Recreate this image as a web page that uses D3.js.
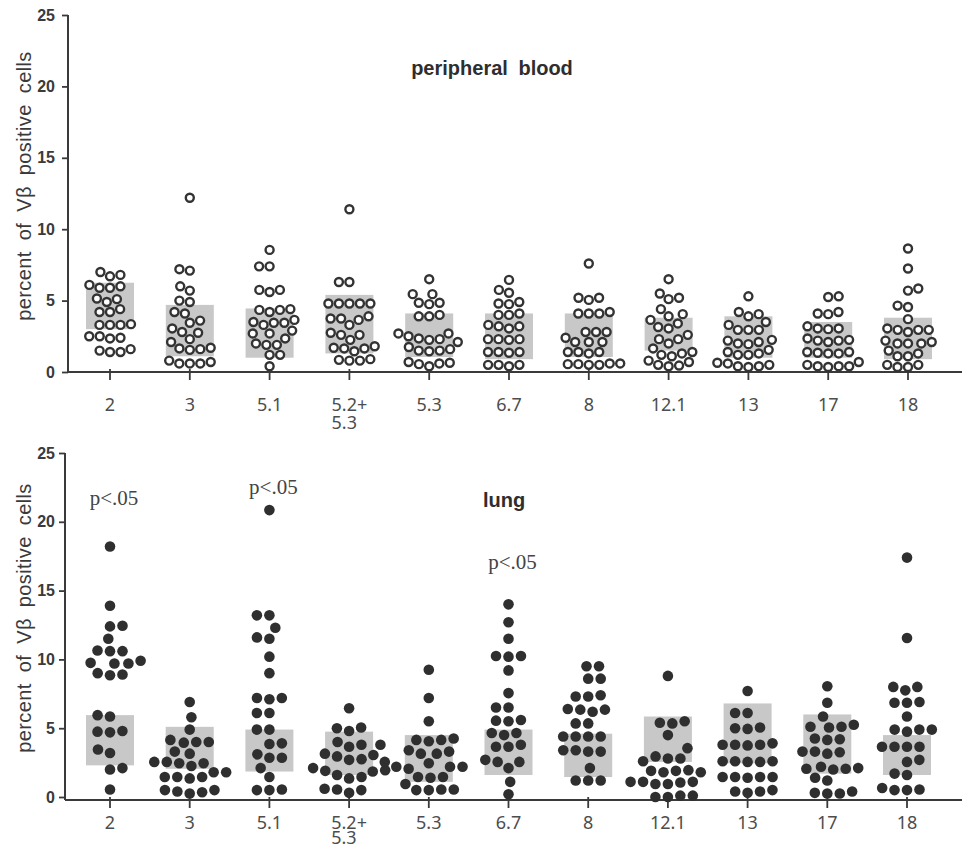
<!DOCTYPE html>
<html lang="en">
<head>
<meta charset="UTF-8" />
<title>Percent of Vβ positive cells: peripheral blood and lung</title>
<script src="https://d3js.org/d3.v7.min.js"></script>
<style>
  body { margin: 0; background: #fff; }
  .cat-label { font-family: "Noto Sans", sans-serif; font-size: 18px; fill: #4d4d4d; }
  .ytick text { font-family: "Liberation Sans", Arial, sans-serif; font-size: 16px; font-weight: bold; fill: #3a3a3a; }
  .ylabel { font-family: "Liberation Sans", Arial, sans-serif; font-size: 20px; fill: #3a3a3a;
            letter-spacing: 0.4px; word-spacing: 5px; }
  .panel-title { font-family: "Liberation Sans", Arial, sans-serif; font-size: 20px; font-weight: bold;
                 fill: #2e2e2e; word-spacing: 5px; }
  .sig { font-family: "Liberation Serif", "Times New Roman", serif; font-size: 21px; fill: #444; }
</style>
</head>
<body>
<svg width="968" height="849"></svg>
<script>
// V beta families on the x axis
const categories = ["2", "3", "5.1", "5.2+|5.3", "5.3", "6.7", "8", "12.1", "13", "17", "18"];
const yTicks = [0, 5, 10, 15, 20, 25];

// peripheral blood, one array of patient values per category
const bloodValues = [
  [6.7,6.8,7.0, 5.9,6.1,6.0,5.9, 4.9,5.1,5.15, 4.4,4.2,4.2, 3.3,3.3,3.35,3.3, 2.4,2.5,2.35,2.5, 1.4,1.6,1.4,1.5],
  [12.2, 7.1,7.2, 5.7,6.0, 4.9,5.0, 4.1,4.2, 3.05,3.45,3.6, 2.3,2.75,2.8,2.1, 1.65,1.6,1.55,1.7, 0.8,0.6,0.6,0.7,0.6],
  [8.55, 7.4,7.4, 5.75,5.75,5.6, 4.35,4.4,4.35,4.2, 3.45,3.45,3.65,3.5,3.3, 2.9,2.7,2.7, 2.35,2.0,1.9, 1.9,1.2,1.2, 0.4],
  [11.4, 6.3,6.3, 4.8,4.8,4.8,4.8,4.8, 3.9,3.75,3.75,3.65, 3.3, 2.6,2.75,2.6, 2.25, 1.65,1.7,1.8,1.65,1.45, 0.85,0.8,0.9,0.8],
  [6.5, 5.45,5.45, 4.85,4.75,4.85, 4.0,3.9,3.9, 2.7,2.7, 2.3,2.1,2.25,2.35,2.5, 1.45,1.5,1.75,1.6,1.5, 0.4,0.55,0.6,0.7,0.65],
  [6.45, 5.55,5.75, 4.75,4.9,4.8, 4.0,4.1,4.0, 3.05,3.2,3.2,3.3, 2.25,2.3,2.3,2.3, 1.4,1.4,1.35,1.4, 0.5,0.4,0.5,0.5],
  [7.6, 5.2,5.2,5.05, 4.1,4.1,4.1,4.2, 2.8,2.8,2.8, 2.1,2.1,2.1,2.4, 1.4,1.3,1.4,1.4, 0.6,0.5,0.5,0.6,0.55,0.55],
  [6.5, 5.1,5.5,5.2, 4.4,3.9,4.05, 3.4,3.05,3.65,3.15, 2.6, 2.3,2.3,2.0, 1.65,1.4,1.3, 1.2,1.1,0.8, 0.45,0.4,0.7,0.5],
  [5.3, 4.05,4.2,3.9, 2.95,2.95,3.5,2.95,3.3, 2.2,2.0,1.95,2.25,2.1, 1.3,1.55,1.2,1.4,1.2, 0.4,0.4,0.6,0.65,0.5,0.35],
  [5.25,5.3, 4.1,4.2,4.05, 3.05,3.05,3.0,3.2, 2.25,2.2,2.1,2.35,2.2, 1.4,1.4,1.3,1.3,1.35, 0.4,0.7,0.35,0.4,0.4,0.5],
  [8.65, 7.25, 5.7,5.85, 4.65,4.55, 3.7, 2.8,2.95,3.05,2.95,2.95, 2.0,2.2,2.1,2.0,2.0, 1.3,1.5,1.1,1.1, 0.5,0.5,0.35,0.35]
];
const bloodQ1 = [3.0, 1.1, 1.0, 1.3, 1.05, 0.9, 1.05, 1.5, 1.0, 1.0, 0.9];
const bloodQ3 = [6.25, 4.7, 4.45, 5.4, 4.1, 4.1, 4.1, 3.8, 3.9, 3.5, 3.8];

// lung
const lungValues = [
  [18.2, 13.9, 12.4,12.45, 11.5, 10.6,10.65,10.6, 9.7,9.7,9.75,9.9, 8.85,8.9,9.0, 5.85,5.95, 4.7,4.75,4.8, 3.45,3.2, 2.0,2.1, 0.55],
  [6.9, 5.8, 4.9, 4.0,3.95,4.15,4.0, 3.15,3.3, 2.45,2.45,2.55,2.55, 2.25, 1.45,1.45,1.45,1.35,1.8,1.8, 0.25,0.35,0.5,0.4,0.5],
  [20.85, 13.2,13.2, 12.3, 11.6,11.5, 10.2, 9.0, 7.2,7.2,7.1, 6.1,6.1, 4.9,4.9, 3.9,3.85, 2.85,2.85,3.1, 2.1,1.45, 0.5,0.55,0.5],
  [6.45, 4.8,5.0,5.05, 3.8,3.8,4.0,3.65, 3.05,2.95,3.15, 2.75,2.7, 1.95,1.85,2.1,1.9, 1.45,1.35,1.6, 0.55,0.3,0.6,0.5],
  [9.25, 7.2, 5.5, 4.25,4.15,4.15,4.05, 3.3,3.4,3.15,3.15, 2.05,2.2,2.2,2.2,2.45,2.55, 1.4,1.45,1.45, 0.95,0.55,0.5,0.55,0.5],
  [14.0, 12.7, 11.5, 10.2,10.25,10.25, 9.2, 7.55, 6.5,6.5, 5.55,5.6,5.5, 4.5,4.65,4.65, 3.65,3.8,3.65, 2.55,2.7,2.55, 2.1, 1.1, 0.2],
  [9.5,9.5, 8.6,8.6, 7.3,7.4,7.3, 6.35,6.35,6.2,6.4, 5.35,5.35, 4.4,4.4,4.4,4.4, 3.4,3.3,3.3,3.4, 2.1, 1.2,1.2,1.2],
  [8.8, 5.4,5.5,5.35, 4.5, 3.55,2.95,2.8, 2.6,2.8, 1.8,1.9,1.95,1.9,1.8, 0.95,1.1,1.05,1.1,1.1,0.95, 0.1,0.0,0.1,0.0],
  [7.7, 6.1,6.1, 5.05,5.0,4.95, 3.8,3.75,3.9,3.8,3.8, 2.6,2.6,2.55,2.6,2.55, 1.45,1.45,1.4,1.45,1.45, 0.5,0.4,0.4,0.3],
  [8.05, 6.85, 5.85, 5.1,5.25,5.05,5.1, 4.15,4.25,4.2, 3.3,3.25,3.15,3.3, 2.2,2.05,2.0,2.1,2.05, 1.2,1.4, 0.25,0.4,0.25,0.3],
  [17.4, 11.55, 7.75,8.0,8.0, 6.85,6.85,6.9, 5.85, 4.9,4.9,4.9,4.75, 3.65,3.65,3.65,3.65, 2.7,2.55, 1.6,1.7, 0.55,0.65,0.5,0.5]
];
const lungQ1 = [2.3, 2.05, 1.85, 1.6, 1.1, 1.6, 1.45, 2.55, 2.45, 1.7, 1.6];
const lungQ3 = [5.95, 5.1, 4.9, 4.75, 4.5, 4.9, 4.6, 5.85, 6.8, 6.0, 4.5];

// significance marks in the lung panel
const sigCats = ["2", "5.1", "6.7"];
const sigLevel = [21.2, 22.0, 16.6];

const svg = d3.select("svg");

// simple beeswarm: each point takes the free x offset closest to the centre
function swarm(values, y, d) {
  const pts = values.map((v, i) => ({ v, i, py: y(v) })).sort((a, b) => a.v - b.v);
  const placed = [];
  pts.forEach(p => {
    const near = placed.filter(q => Math.abs(q.py - p.py) < d);
    const cands = [0];
    near.forEach(q => {
      const dx = Math.sqrt(d * d - (q.py - p.py) ** 2);
      cands.push(q.dx + dx, q.dx - dx);
    });
    cands.sort((a, b) => Math.abs(a) - Math.abs(b) || (p.i % 2 ? b - a : a - b));
    p.dx = cands.find(c => near.every(q => (q.dx - c) ** 2 + (q.py - p.py) ** 2 >= d * d - 0.01));
    placed.push(p);
  });
  return placed;
}

function drawPanel(cfg) {
  const g = svg.append("g");

  const x = d3.scalePoint().domain(categories).range(cfg.xRange);
  const y = d3.scaleLinear().domain([0, 25]).range(cfg.yRange);

  // shaded boxes
  g.selectAll(".box")
    .data(categories)
    .join("rect")
    .attr("class", "box")
    .attr("x", c => x(c) - 24)
    .attr("width", 48)
    .attr("y", (c, i) => y(cfg.q3[i]))
    .attr("height", (c, i) => y(cfg.q1[i]) - y(cfg.q3[i]))
    .attr("fill", "#c8c8c8");

  // axes
  const yAxis = g.append("g")
    .attr("class", "ytick")
    .attr("transform", `translate(${cfg.xLeft},0)`)
    .call(d3.axisLeft(y).tickValues(yTicks).tickSize(6).tickPadding(cfg.tickPad));
  yAxis.select(".domain").remove();
  yAxis.selectAll("line").attr("stroke", "#3a3a3a").attr("stroke-width", 1.8);

  g.append("line")
    .attr("x1", cfg.xLeft).attr("x2", cfg.xLeft)
    .attr("y1", y(25)).attr("y2", cfg.axisY)
    .attr("stroke", "#3a3a3a").attr("stroke-width", 2);

  g.append("line")
    .attr("x1", cfg.xLeft).attr("x2", 962)
    .attr("y1", cfg.axisY).attr("y2", cfg.axisY)
    .attr("stroke", "#3a3a3a").attr("stroke-width", 2);

  g.selectAll(".xtick")
    .data(categories)
    .join("line")
    .attr("class", "xtick")
    .attr("x1", c => x(c)).attr("x2", c => x(c))
    .attr("y1", cfg.axisY - 3).attr("y2", cfg.axisY + 8)
    .attr("stroke", "#3a3a3a").attr("stroke-width", 1.8);

  // category labels, "5.2+|5.3" is two lines
  categories.forEach(c => {
    const lines = c.split("|");
    const t = g.append("text").attr("class", "cat-label")
      .attr("x", x(c)).attr("y", cfg.labelY)
      .attr("text-anchor", lines.length > 1 ? "start" : "middle");
    lines.forEach((s, k) => {
      t.append("tspan").attr("x", x(c)).attr("dy", k ? cfg.lineGap : 0).text(s);
    });
    if (lines.length > 1) {
      const w = t.select("tspan").node().getComputedTextLength();
      t.selectAll("tspan").attr("x", x(c) - w / 2);
    }
  });

  // points
  categories.forEach((c, i) => {
    const pts = swarm(cfg.values[i], y, cfg.spacing);
    g.selectAll(null)
      .data(pts)
      .join("circle")
      .attr("cx", d => x(c) + d.dx)
      .attr("cy", d => d.py)
      .attr("r", cfg.r)
      .attr("fill", cfg.filled ? "#2f2f2f" : "#fff")
      .attr("stroke", cfg.filled ? "none" : "#333")
      .attr("stroke-width", 2.4);
  });

  // y label
  g.append("text")
    .attr("class", "ylabel")
    .attr("transform", `translate(31,${cfg.ylabelMid}) rotate(-90)`)
    .attr("text-anchor", "middle")
    .text("percent of Vβ positive cells");

  g.append("text")
    .attr("class", "panel-title")
    .attr("x", cfg.titleX).attr("y", cfg.titleY)
    .attr("text-anchor", "middle")
    .text(cfg.title);

  return { x, y, g };
}

drawPanel({
  values: bloodValues, q1: bloodQ1, q3: bloodQ3,
  xRange: [110, 908], yRange: [372, 15], xLeft: 68, axisY: 372, tickPad: 7,
  labelY: 411, lineGap: 18, ylabelMid: 186, filled: false, r: 4, spacing: 10.5,
  title: "peripheral blood", titleX: 492, titleY: 75
});

const lung = drawPanel({
  values: lungValues, q1: lungQ1, q3: lungQ3,
  xRange: [110, 907], yRange: [797, 453], xLeft: 65, axisY: 800, tickPad: 4,
  labelY: 829, lineGap: 15, ylabelMid: 618, filled: true, r: 5.3, spacing: 12.5,
  title: "lung", titleX: 504, titleY: 507
});

lung.g.selectAll(".sig")
  .data(sigCats)
  .join("text")
  .attr("class", "sig")
  .attr("x", c => lung.x(c) + 4)
  .attr("y", (c, i) => lung.y(sigLevel[i]))
  .attr("text-anchor", "middle")
  .text("p<.05");
</script>
</body>
</html>
